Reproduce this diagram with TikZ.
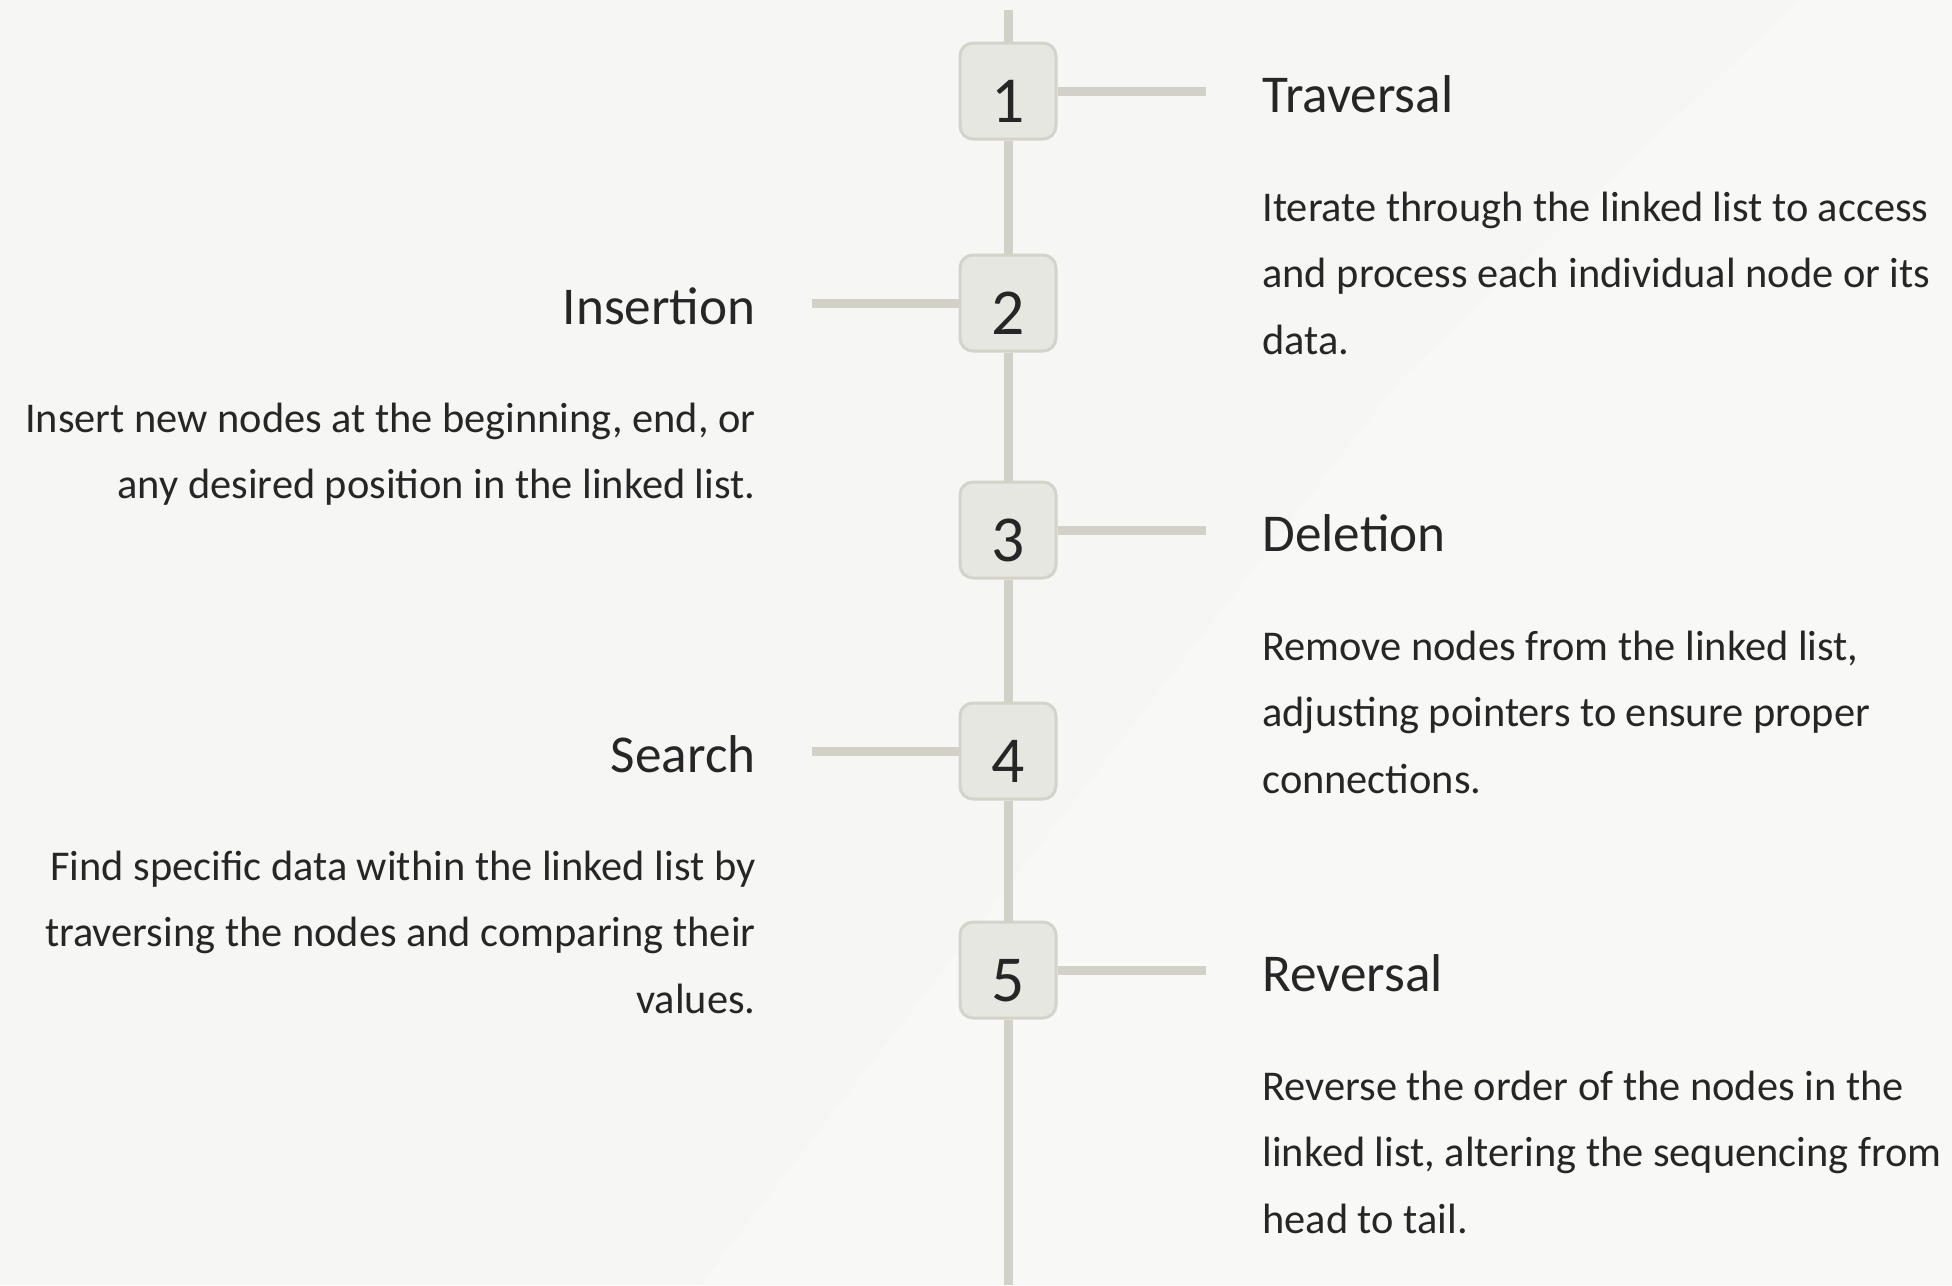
\documentclass[tikz,border=0pt]{standalone}
\usepackage{fontspec}
\setmainfont{Carlito}
\definecolor{bgcol}{HTML}{F6F6F4}
\definecolor{bglight}{HTML}{F8F8F6}
\definecolor{boxfill}{HTML}{E7E7E1}
\definecolor{boxborder}{HTML}{D3D3C9}
\definecolor{railcol}{HTML}{D1D1C7}
\definecolor{txt}{HTML}{262626}
\pgfdeclarelayer{bg}
\pgfdeclarelayer{background}
\pgfsetlayers{bg,background,main}
\begin{document}
\begin{tikzpicture}[x=0.5pt,y=-0.5pt,
  stepbox/.style={draw=boxborder, line width=1.5pt, fill=boxfill, rounded corners=6.5pt,
    minimum size=48pt, inner sep=0pt, text height=31pt, text depth=0pt,
    font=\fontsize{32.8}{36}\selectfont, text=txt},
  rail/.style={line width=4.5pt, draw=railcol},
  ttl/.style={font=\fontsize{26.6}{30}\selectfont, text=txt, inner sep=0pt},
  body/.style={font=\fontsize{21.2}{33.3}\selectfont, text=txt, inner sep=0pt}]
\useasboundingbox (0,0) rectangle (1952,1285);
\begin{pgfonlayer}{bg}
\fill[bgcol] (0,0) rectangle (1952,1285);
\fill[bglight] (1952,0) -- (1952,1285) -- (700,1285) -- (1400,380) -- (1800,0) -- cycle;
\end{pgfonlayer}

% step boxes
\node[stepbox] (n1) at (1008,91) {1};
\node[stepbox] (n2) at (1008,303) {2};
\node[stepbox] (n3) at (1008,530) {3};
\node[stepbox] (n4) at (1008,751) {4};
\node[stepbox] (n5) at (1008,970) {5};

% rail ends
\coordinate (top) at (1008,10);
\coordinate (bot) at (1008,1285);
\coordinate (c1) at (1206,91);
\coordinate (c2) at (812,303);
\coordinate (c3) at (1206,530);
\coordinate (c4) at (812,751);
\coordinate (c5) at (1206,970);

\begin{pgfonlayer}{background}
\draw[rail] (top) -- (n1.north);
\draw[rail] (n1.south) -- (n2.north);
\draw[rail] (n2.south) -- (n3.north);
\draw[rail] (n3.south) -- (n4.north);
\draw[rail] (n4.south) -- (n5.north);
\draw[rail] (n5.south) -- (bot);
\draw[rail] (n1.east) -- (c1);
\draw[rail] (c2) -- (n2.west);
\draw[rail] (n3.east) -- (c3);
\draw[rail] (c4) -- (n4.west);
\draw[rail] (n5.east) -- (c5);
\end{pgfonlayer}

% right texts (base anchor = last line baseline)
\node[ttl, anchor=base west] (t1) at (1262,112) {Traversal};
\node[body, anchor=base west, align=left] (d1) at (1262,354.2)
  {Iterate through the linked list to access\\and process each individual node or its\\data.};
\node[ttl, anchor=base west] (t3) at (1262,551) {Deletion};
\node[body, anchor=base west, align=left] (d3) at (1262,793.2)
  {Remove nodes from the linked list,\\adjusting pointers to ensure proper\\connections.};
\node[ttl, anchor=base west] (t5) at (1262,991) {Reversal};
\node[body, anchor=base west, align=left] (d5) at (1262,1233.2)
  {Reverse the order of the nodes in the\\linked list, altering the sequencing from\\head to tail.};

% left texts
\node[ttl, anchor=base east] (t2) at (756,324) {Insertion};
\node[body, anchor=base east, align=right] (d2) at (756,498.6)
  {Insert new nodes at the beginning, end, or\\any desired position in the linked list.};
\node[ttl, anchor=base east] (t4) at (756,772) {Search};
\node[body, anchor=base east, align=right] (d4) at (756,1013.4)
  {Find specific data within the linked list by\\traversing the nodes and comparing their\\values.};
\end{tikzpicture}
\end{document}
